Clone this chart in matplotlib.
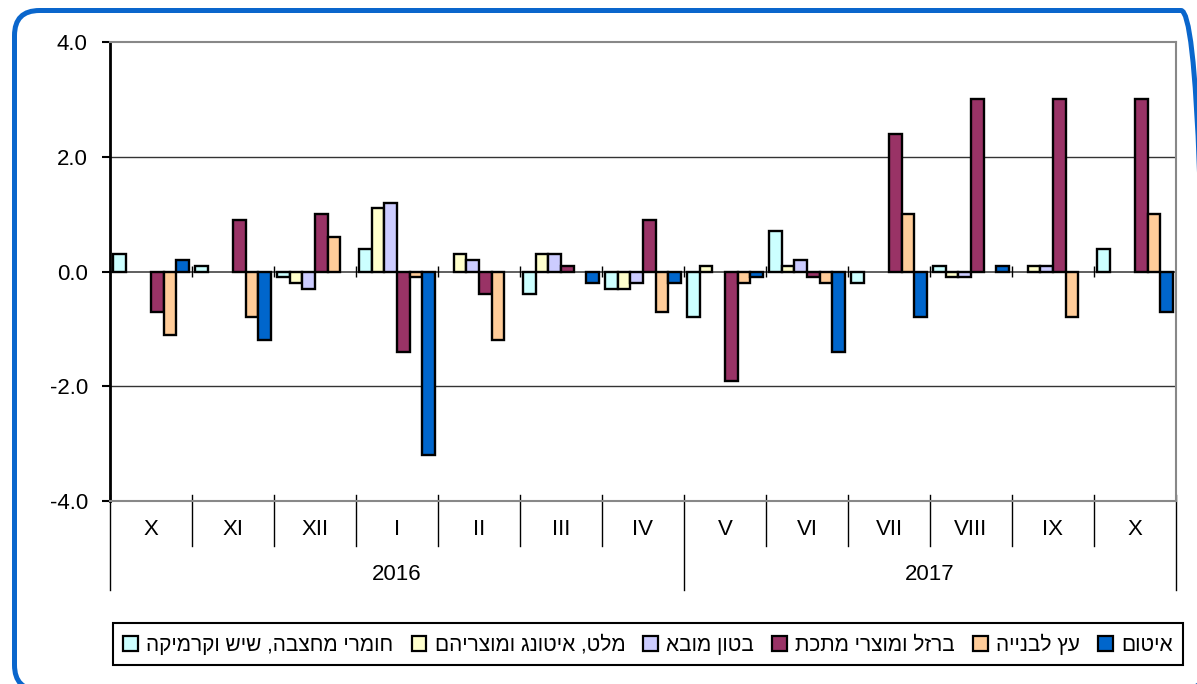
import numpy as np
import matplotlib.pyplot as plt
from matplotlib.patches import FancyBboxPatch, Patch
from matplotlib.transforms import IdentityTransform

plt.rcParams['font.family'] = ['Liberation Sans', 'DejaVu Sans']

# categories
months = ["X", "XI", "XII", "I", "II", "III", "IV", "V", "VI", "VII", "VIII", "IX", "X"]
years = ["2016", "2017"]
months_per_year = [7, 6]

# series (logical Hebrew order)
series_names = [
    "חומרי מחצבה, שיש וקרמיקה",
    "מלט, איטונג ומוצריהם",
    "בטון מובא",
    "ברזל ומוצרי מתכת",
    "עץ לבנייה",
    "איטום",
]
colors = ["#CCFFFF", "#FFFFCC", "#CCCCFF", "#993366", "#FFCC99", "#0066CC"]

quarry = [0.3, 0.1, -0.1, 0.4, 0.0, -0.4, -0.3, -0.8, 0.7, -0.2, 0.1, 0.0, 0.4]
cement = [0.0, 0.0, -0.2, 1.1, 0.3, 0.3, -0.3, 0.1, 0.1, 0.0, -0.1, 0.1, 0.0]
concrete = [0.0, 0.0, -0.3, 1.2, 0.2, 0.3, -0.2, 0.0, 0.2, 0.0, -0.1, 0.1, 0.0]
metal = [-0.7, 0.9, 1.0, -1.4, -0.4, 0.1, 0.9, -1.9, -0.1, 2.4, 3.0, 3.0, 3.0]
wood = [-1.1, -0.8, 0.6, -0.1, -1.2, 0.0, -0.7, -0.2, -0.2, 1.0, 0.0, -0.8, 1.0]
insulation = [0.2, -1.2, 0.0, -3.2, 0.0, -0.2, -0.2, -0.1, -1.4, -0.8, 0.1, 0.0, -0.7]
series = [quarry, cement, concrete, metal, wood, insulation]

W, H = 1197, 684
fig = plt.figure(figsize=(W / 100, H / 100), dpi=100)
ax = fig.add_axes([110 / W, 1 - 501 / H, 1066 / W, 459 / H])

n = len(series)
bw = 1 / (n + 0.45)
x = np.arange(len(months))
for i, vals in enumerate(series):
    vals = np.array(vals)
    lw = np.where(vals == 0, 0, 1.7)
    ax.bar(x + 0.5 + (i - (n - 1) / 2) * bw, vals, width=bw, color=colors[i],
           edgecolor="black", linewidth=lw, zorder=3)

ax.set_xlim(0, len(months))
ax.set_ylim(-4, 4)
ax.set_yticks([-4, -2, 0, 2, 4])
ax.set_yticklabels([f"{v:.1f}" for v in [-4, -2, 0, 2, 4]])
ax.set_xticks([])
ax.tick_params(axis="y", direction="out", length=6, width=1.5, labelsize=16, pad=10)

for s in ["top", "right", "bottom"]:
    ax.spines[s].set_color("#888888")
    ax.spines[s].set_linewidth(1.5)
ax.spines["left"].set_color("black")
ax.spines["left"].set_linewidth(2)

for y in [-2, 2]:
    ax.axhline(y, color="#333333", lw=1, zorder=1)
ax.axhline(0, color="#444444", lw=1.2, zorder=2)
ax.vlines(np.arange(len(months) + 1), -0.1, 0.1, color="black", lw=1, zorder=2)

# category table below the plot
trans = ax.get_xaxis_transform()
year_edges = np.concatenate([[0], np.cumsum(months_per_year)])
for b in range(len(months) + 1):
    if b in year_edges:
        ax.plot([b, b], [0.013, -0.194], color="black", lw=1, transform=trans, clip_on=False)
    else:
        ax.plot([b, b], [0.013, -0.098], color="black", lw=1, transform=trans, clip_on=False)
for i, m in enumerate(months):
    ax.text(i + 0.5, -0.063, m, ha="center", va="center", fontsize=16, transform=trans)
for j, yr in enumerate(years):
    ax.text((year_edges[j] + year_edges[j + 1]) / 2, -0.161, yr, ha="center", va="center",
            fontsize=16, transform=trans)

# legend (text reversed for right-to-left display)
handles = [Patch(facecolor=c, edgecolor="black", linewidth=1.6) for c in colors]
leg = fig.legend(handles, [s[::-1] for s in series_names], loc="center",
                 bbox_to_anchor=(113 / W, 1 - 675 / H, 1070 / W, 62 / H), mode="expand",
                 ncol=6, fontsize=15, handlelength=0.7, handleheight=0.7,
                 handletextpad=0.4, columnspacing=0.4, fancybox=False, edgecolor="black",
                 borderaxespad=0, borderpad=0.5, framealpha=1)
leg.get_frame().set_linewidth(1.5)

# rounded blue frame
frame = FancyBboxPatch((14.5, -6), 1206 - 14.5, 673.5 + 6,
                       boxstyle="round,pad=0,rounding_size=25",
                       transform=IdentityTransform(), fill=False,
                       edgecolor="#0A66CC", linewidth=3.6)
fig.add_artist(frame)

fig.savefig("out.png", dpi=100)
